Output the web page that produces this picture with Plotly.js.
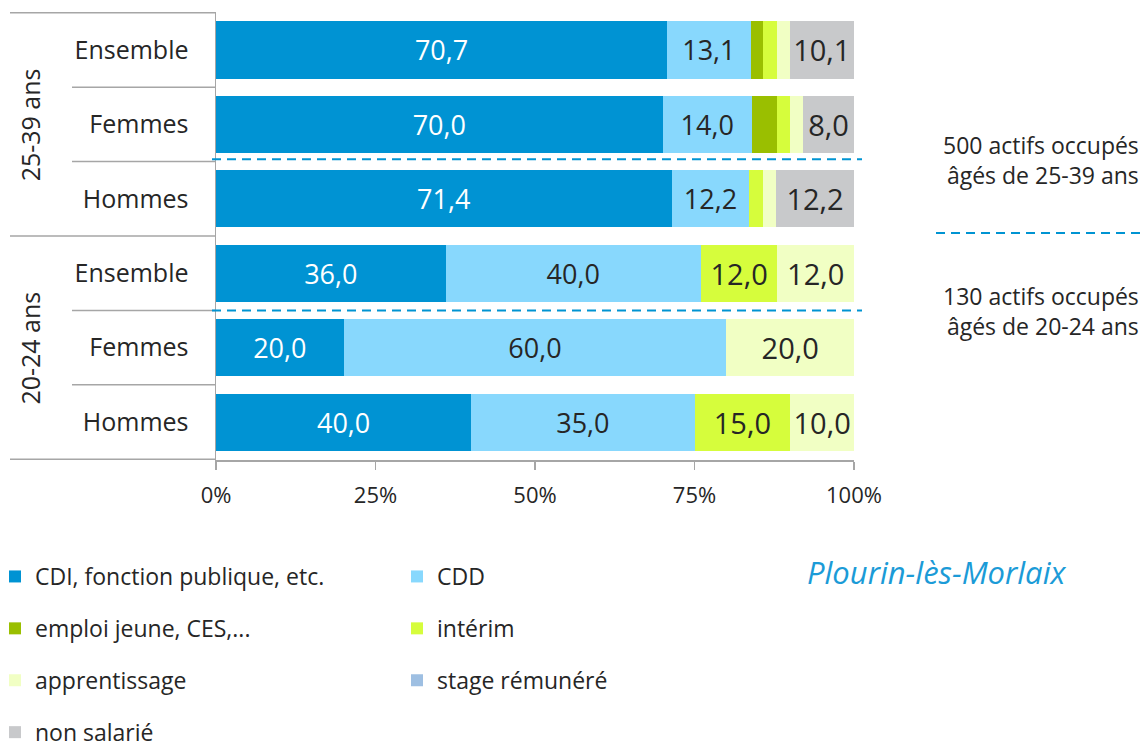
<!DOCTYPE html>
<html>
<head>
<meta charset="utf-8">
<script src="https://cdn.plot.ly/plotly-3.0.1.min.js"></script>
<style>html,body{margin:0;padding:0;background:#fff}#chart{width:1143px;height:745px}</style>
</head>
<body>
<div id="chart"></div>
<script>
// ---- data ----
const groups = ['25-39 ans','25-39 ans','25-39 ans','20-24 ans','20-24 ans','20-24 ans'];
const categories = ['Ensemble','Femmes','Hommes','Ensemble','Femmes','Hommes'];
const seriesNames = ['CDI, fonction publique, etc.','CDD','emploi jeune, CES,...','intérim','apprentissage','stage rémunéré','non salarié'];
const cdi          = [70.7, 70.0, 71.4, 36.0, 20.0, 40.0];
const cdd          = [13.1, 14.0, 12.2, 40.0, 60.0, 35.0];
const emploiJeune  = [2.0, 4.0, 0.0, 0.0, 0.0, 0.0];
const interim      = [2.1, 2.0, 2.1, 12.0, 0.0, 15.0];
const apprentissage= [2.0, 2.0, 2.1, 12.0, 20.0, 10.0];
const stage        = [0.0, 0.0, 0.0, 0.0, 0.0, 0.0];
const nonSalarie   = [10.1, 8.0, 12.2, 0.0, 0.0, 0.0];
const xTickVals = [0, 25, 50, 75, 100];
const xTickText = ['0%','25%','50%','75%','100%'];
const groupNames = ['25-39 ans','20-24 ans'];
const noteTexts = ['500 actifs occupés<br>âgés de 25-39 ans','130 actifs occupés<br>âgés de 20-24 ans'];
const placeName = 'Plourin-lès-Morlaix';

// ---- styles ----
const colors = ['#0093D3','#88D8FD','#9ABF00','#D6FD3C','#F1FFC4','#9EBFE2','#C8C9CB'];
const labelColors = ['#ffffff','#262626','#262626','#262626','#262626','#262626','#262626'];
const labelSizes = [27, 27, 29, 29, 29, 29, 29];
const FONT = '"Open Sans", "Noto Sans", sans-serif';
const GRAY = '#A6A6A6';
const BLUE = '#0094D2';

const rowIds = categories.map((c, i) => groups[i] + ' | ' + c);
const allSeries = [cdi, cdd, emploiJeune, interim, apprentissage, stage, nonSalarie];

const fmt = v => v.toFixed(1).replace('.', ',');

const traces = allSeries.map((vals, s) => ({
  type: 'bar',
  orientation: 'h',
  name: seriesNames[s],
  legendgroup: 'g' + s,
  x: vals,
  y: rowIds,
  marker: {color: colors[s], line: {width: 0}},
  text: vals.map(v => v >= 5 ? fmt(v) : ''),
  textposition: 'inside',
  insidetextanchor: 'middle',
  textangle: 0,
  constraintext: 'none',
  textfont: {family: FONT, size: labelSizes[s], color: labelColors[s]},
  hoverinfo: 'skip',
  showlegend: true
}));

// layout geometry helpers (px -> paper)
const L = 216, R = 854, T = 12, B = 460;
const px = x => (x - L) / (R - L);
const py = y => (B - y) / (B - T);

const shapes = [];
// inner row separators
[0.5, 1.5, 3.5, 4.5].forEach(v => shapes.push({type:'line', xref:'paper', yref:'y', x0:px(72), x1:0, y0:v, y1:v, line:{color:GRAY, width:1.5}}));
// group separators
[-0.5, 2.5, 5.5].forEach(v => shapes.push({type:'line', xref:'paper', yref:'y', x0:px(10), x1:0, y0:v, y1:v, line:{color:GRAY, width:1.5}}));
// blue dashed lines
[1.47, 3.5].forEach(v => shapes.push({type:'line', xref:'paper', yref:'y', x0:px(212), x1:px(862), y0:v, y1:v, line:{color:BLUE, width:2, dash:'9px,6px'}}));
shapes.push({type:'line', xref:'paper', yref:'paper', x0:px(936), x1:px(1140), y0:py(233), y1:py(233), line:{color:BLUE, width:2, dash:'9px,6px'}});

const annotations = [
  {xref:'paper', yref:'y', x:px(30), y:1, text:groupNames[0], textangle:-90, showarrow:false, xanchor:'center', yanchor:'middle', font:{family:FONT, size:25, color:'#262626'}},
  {xref:'paper', yref:'y', x:px(30), y:4, text:groupNames[1], textangle:-90, showarrow:false, xanchor:'center', yanchor:'middle', font:{family:FONT, size:25, color:'#262626'}},
  {xref:'paper', yref:'paper', x:px(1141), y:py(159.5), text:noteTexts[0], showarrow:false, xanchor:'right', yanchor:'middle', align:'right', font:{family:FONT, size:23, color:'#262626'}},
  {xref:'paper', yref:'paper', x:px(1141), y:py(310.5), text:noteTexts[1], showarrow:false, xanchor:'right', yanchor:'middle', align:'right', font:{family:FONT, size:23, color:'#262626'}},
  {xref:'paper', yref:'paper', x:px(1068), y:py(572), text:'<i>' + placeName + '</i>', showarrow:false, xanchor:'right', yanchor:'middle', font:{family:FONT, size:31, color:'#1B9BD7'}}
];

const layout = {
  width: 1143, height: 745,
  margin: {l: L, r: 1143 - R, t: T, b: 745 - B, autoexpand: false},
  paper_bgcolor: '#ffffff', plot_bgcolor: '#ffffff',
  barmode: 'stack',
  bargap: 0.233,
  separators: ', ',
  font: {family: FONT, color: '#262626'},
  xaxis: {
    range: [0, 100], tickvals: xTickVals, ticktext: xTickText,
    showgrid: false, zeroline: false, showline: true, linecolor: GRAY, linewidth: 1.5,
    ticks: 'outside', ticklen: 8, tickcolor: GRAY, tickwidth: 1.5,
    tickfont: {family: FONT, size: 22, color: '#262626'}, ticklabelstandoff: 7, fixedrange: true
  },
  yaxis: {
    type: 'category', autorange: 'reversed', tickvals: rowIds, ticktext: categories,
    showgrid: false, zeroline: false, showline: true, linecolor: GRAY, linewidth: 1.5,
    ticks: '', tickfont: {family: FONT, size: 25, color: '#262626'}, ticklabelstandoff: 21, fixedrange: true
  },
  showlegend: true,
  legend: {
    orientation: 'h', traceorder: 'grouped', x: px(-5), xanchor: 'left', y: py(555), yanchor: 'top',
    entrywidth: 357, tracegroupgap: 19, font: {family: FONT, size: 23, color: '#262626'},
    bgcolor: 'rgba(0,0,0,0)', itemclick: false, itemdoubleclick: false
  },
  shapes: shapes,
  annotations: annotations
};

Plotly.newPlot('chart', traces, layout, {displayModeBar: false, staticPlot: true});
</script>
</body>
</html>
